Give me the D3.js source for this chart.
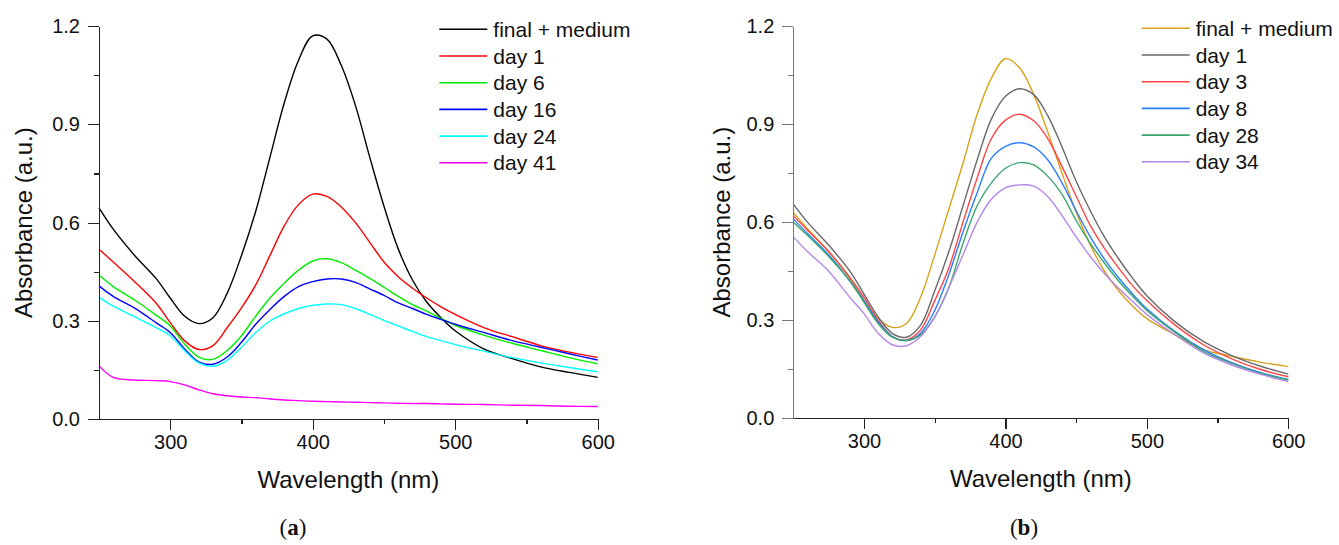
<!DOCTYPE html>
<html>
<head>
<meta charset="utf-8">
<script src="https://cdn.jsdelivr.net/npm/d3@7/dist/d3.min.js"></script>
<style>
  body { margin: 0; background: #fff; }
  svg { display: block; font-family: "Liberation Sans", Arial, sans-serif; }
  .axis path, .axis line { shape-rendering: crispEdges; }
</style>
</head>
<body>
<svg id="chart" width="1339" height="545"></svg>
<script>
// wavelengths (nm) sampled for both panels
var wavelengths = [250, 260, 275, 290, 300, 310, 320, 330, 340, 350, 360, 370, 380, 390, 400,
                   410, 420, 430, 440, 450, 460, 470, 480, 490, 500, 520, 540, 560, 580, 600];

// panel (a)
var labelsA = ["final + medium", "day 1", "day 6", "day 16", "day 24", "day 41"];
var colorsA = ["#000000", "#ff0000", "#00ee00", "#0000ff", "#00ffff", "#ff00ff"];
var finalA = [0.645, 0.58, 0.50, 0.43, 0.37, 0.315, 0.292, 0.31, 0.385, 0.50, 0.635, 0.80, 0.965, 1.095, 1.17,
              1.16, 1.08, 0.957, 0.80, 0.65, 0.52, 0.425, 0.358, 0.31, 0.27, 0.215, 0.185, 0.16, 0.143, 0.128];
var day1A  = [0.519, 0.48, 0.42, 0.355, 0.295, 0.24, 0.213, 0.225, 0.28, 0.34, 0.41, 0.50, 0.59, 0.655, 0.687,
              0.68, 0.648, 0.60, 0.54, 0.48, 0.435, 0.40, 0.37, 0.343, 0.32, 0.28, 0.252, 0.225, 0.205, 0.189];
var day6A  = [0.44, 0.405, 0.364, 0.318, 0.285, 0.23, 0.19, 0.183, 0.21, 0.255, 0.315, 0.37, 0.415, 0.455, 0.483,
              0.49, 0.478, 0.455, 0.43, 0.403, 0.375, 0.35, 0.33, 0.308, 0.287, 0.257, 0.232, 0.21, 0.188, 0.169];
var day16A = [0.407, 0.375, 0.339, 0.295, 0.265, 0.215, 0.175, 0.168, 0.19, 0.235, 0.29, 0.335, 0.375, 0.405, 0.42,
              0.428, 0.428, 0.418, 0.398, 0.378, 0.355, 0.338, 0.32, 0.305, 0.29, 0.265, 0.24, 0.22, 0.20, 0.181];
var day24A = [0.372, 0.345, 0.313, 0.28, 0.255, 0.21, 0.172, 0.162, 0.18, 0.22, 0.265, 0.30, 0.322, 0.338, 0.348,
              0.352, 0.35, 0.338, 0.32, 0.302, 0.285, 0.268, 0.252, 0.24, 0.228, 0.208, 0.188, 0.172, 0.158, 0.145];
var day41A = [0.163, 0.128, 0.12, 0.118, 0.115, 0.105, 0.09, 0.078, 0.072, 0.068, 0.066, 0.062, 0.059, 0.057, 0.055,
              0.054, 0.053, 0.052, 0.051, 0.05, 0.049, 0.048, 0.048, 0.047, 0.046, 0.045, 0.043, 0.042, 0.04, 0.039];

// panel (b)
var labelsB = ["final + medium", "day 1", "day 3", "day 8", "day 28", "day 34"];
var colorsB = ["#d9a21b", "#6a6a6a", "#ff4545", "#2a7fff", "#3aa56e", "#b587ea"];
var finalB = [0.63, 0.58, 0.51, 0.43, 0.36, 0.305, 0.278, 0.29, 0.37, 0.50, 0.64, 0.78, 0.93, 1.04, 1.10,
              1.072, 0.99, 0.875, 0.75, 0.63, 0.53, 0.45, 0.39, 0.343, 0.305, 0.255, 0.21, 0.19, 0.172, 0.158];
var day1B  = [0.655, 0.60, 0.53, 0.45, 0.38, 0.31, 0.26, 0.248, 0.285, 0.39, 0.51, 0.65, 0.79, 0.915, 0.985,
              1.008, 0.99, 0.925, 0.83, 0.725, 0.635, 0.555, 0.488, 0.428, 0.375, 0.295, 0.235, 0.192, 0.16, 0.135];
var day3B  = [0.62, 0.575, 0.51, 0.43, 0.37, 0.30, 0.25, 0.24, 0.27, 0.36, 0.46, 0.60, 0.735, 0.855, 0.912,
              0.93, 0.91, 0.855, 0.77, 0.68, 0.59, 0.52, 0.46, 0.405, 0.36, 0.285, 0.225, 0.182, 0.15, 0.127];
var day8B  = [0.61, 0.565, 0.50, 0.42, 0.36, 0.295, 0.25, 0.238, 0.26, 0.33, 0.44, 0.57, 0.69, 0.795, 0.832,
              0.843, 0.83, 0.79, 0.72, 0.635, 0.555, 0.487, 0.43, 0.38, 0.335, 0.265, 0.21, 0.17, 0.14, 0.119];
var day28B = [0.60, 0.56, 0.495, 0.42, 0.355, 0.29, 0.248, 0.238, 0.255, 0.31, 0.40, 0.535, 0.65, 0.72, 0.765,
              0.782, 0.775, 0.74, 0.685, 0.605, 0.535, 0.475, 0.42, 0.373, 0.33, 0.263, 0.205, 0.168, 0.138, 0.117];
var day34B = [0.555, 0.51, 0.45, 0.37, 0.32, 0.26, 0.225, 0.222, 0.25, 0.31, 0.40, 0.50, 0.60, 0.67, 0.705,
              0.714, 0.71, 0.678, 0.62, 0.555, 0.495, 0.443, 0.398, 0.357, 0.318, 0.255, 0.20, 0.163, 0.135, 0.112];

var xTicks = [300, 400, 500, 600];
var xMinor = [350, 450, 550];
var yTicks = [0.0, 0.3, 0.6, 0.9, 1.2];
var yMinor = [0.15, 0.45, 0.75, 1.05];

var svg = d3.select("#chart");

function drawPanel(opt) {
  var x = d3.scaleLinear().domain([250, 600]).range([opt.left, opt.right]);
  var y = d3.scaleLinear().domain([0, 1.2]).range([opt.bottom, opt.top]);
  var g = svg.append("g");

  // curves
  var line = d3.line()
      .x(function(d) { return x(d[0]); })
      .y(function(d) { return y(d[1]); })
      .curve(d3.curveCatmullRom.alpha(0.5));
  opt.series.forEach(function(s, i) {
    g.append("path")
        .datum(wavelengths.map(function(w, j) { return [w, s[j]]; }))
        .attr("fill", "none")
        .attr("stroke", opt.colors[i])
        .attr("stroke-width", 1.4)
        .attr("d", line);
  });

  // x axis
  var xa = g.append("g").attr("class", "axis")
      .attr("transform", "translate(0," + opt.bottom + ")");
  xa.call(d3.axisBottom(x).tickValues(xTicks).tickSize(11).tickSizeOuter(0).tickPadding(5)
      .tickFormat(d3.format("d")));
  xa.append("g").call(d3.axisBottom(x).tickValues(xMinor).tickSize(5).tickFormat(""))
      .select(".domain").remove();
  xa.selectAll("path, line").attr("stroke", opt.xColor).attr("stroke-width", 1.3);
  xa.selectAll("text").attr("fill", "#111").attr("font-size", 20)
      .attr("font-family", "Liberation Sans, Arial, sans-serif");

  // y axis
  var ya = g.append("g").attr("class", "axis")
      .attr("transform", "translate(" + opt.left + ",0)");
  ya.call(d3.axisLeft(y).tickValues(yTicks).tickSize(11).tickSizeOuter(0).tickPadding(8)
      .tickFormat(d3.format(".1f")));
  ya.append("g").call(d3.axisLeft(y).tickValues(yMinor).tickSize(5).tickFormat(""))
      .select(".domain").remove();
  ya.selectAll("path, line").attr("stroke", opt.yColor).attr("stroke-width", 1.3);
  ya.selectAll("text").attr("fill", "#111").attr("font-size", 20)
      .attr("font-family", "Liberation Sans, Arial, sans-serif");

  // axis titles
  g.append("text")
      .attr("x", (opt.left + opt.right) / 2)
      .attr("y", opt.bottom + 69)
      .attr("text-anchor", "middle")
      .attr("font-size", 24)
      .attr("fill", "#111")
      .text("Wavelength (nm)");
  g.append("text")
      .attr("transform", "translate(" + opt.yTitleX + "," + ((opt.top + opt.bottom) / 2) + ")rotate(-90)")
      .attr("text-anchor", "middle")
      .attr("font-size", 24)
      .attr("fill", "#111")
      .text("Absorbance (a.u.)");

  // legend
  opt.labels.forEach(function(lab, i) {
    var ly = opt.legendY + i * 26.7;
    g.append("line")
        .attr("x1", opt.legendX).attr("x2", opt.legendX + 48)
        .attr("y1", ly).attr("y2", ly)
        .attr("stroke", opt.colors[i]).attr("stroke-width", 1.6);
    g.append("text")
        .attr("x", opt.legendX + 54)
        .attr("y", ly + 7.5)
        .attr("font-size", 21)
        .attr("fill", "#111")
        .text(lab);
  });

  // panel label
  var pl = svg.append("text")
      .attr("x", opt.tagX)
      .attr("y", 535)
      .attr("text-anchor", "middle")
      .attr("font-family", "Liberation Serif, serif")
      .attr("font-size", 23)
      .attr("fill", "#111");
  pl.append("tspan").text("(");
  pl.append("tspan").attr("font-weight", "bold").text(opt.tag);
  pl.append("tspan").text(")");
}

drawPanel({
  left: 99, right: 597.7, top: 26, bottom: 419.3,
  series: [finalA, day1A, day6A, day16A, day24A, day41A],
  colors: colorsA, labels: labelsA,
  legendX: 439.3, legendY: 29.3,
  yTitleX: 32, xColor: "#222", yColor: "#222",
  tag: "a", tagX: 293
});

drawPanel({
  left: 793.3, right: 1288.3, top: 26, bottom: 418.3,
  series: [finalB, day1B, day3B, day8B, day28B, day34B],
  colors: colorsB, labels: labelsB,
  legendX: 1141.7, legendY: 28.3,
  yTitleX: 730, xColor: "#222", yColor: "#777",
  tag: "b", tagX: 1024
});
</script>
</body>
</html>
